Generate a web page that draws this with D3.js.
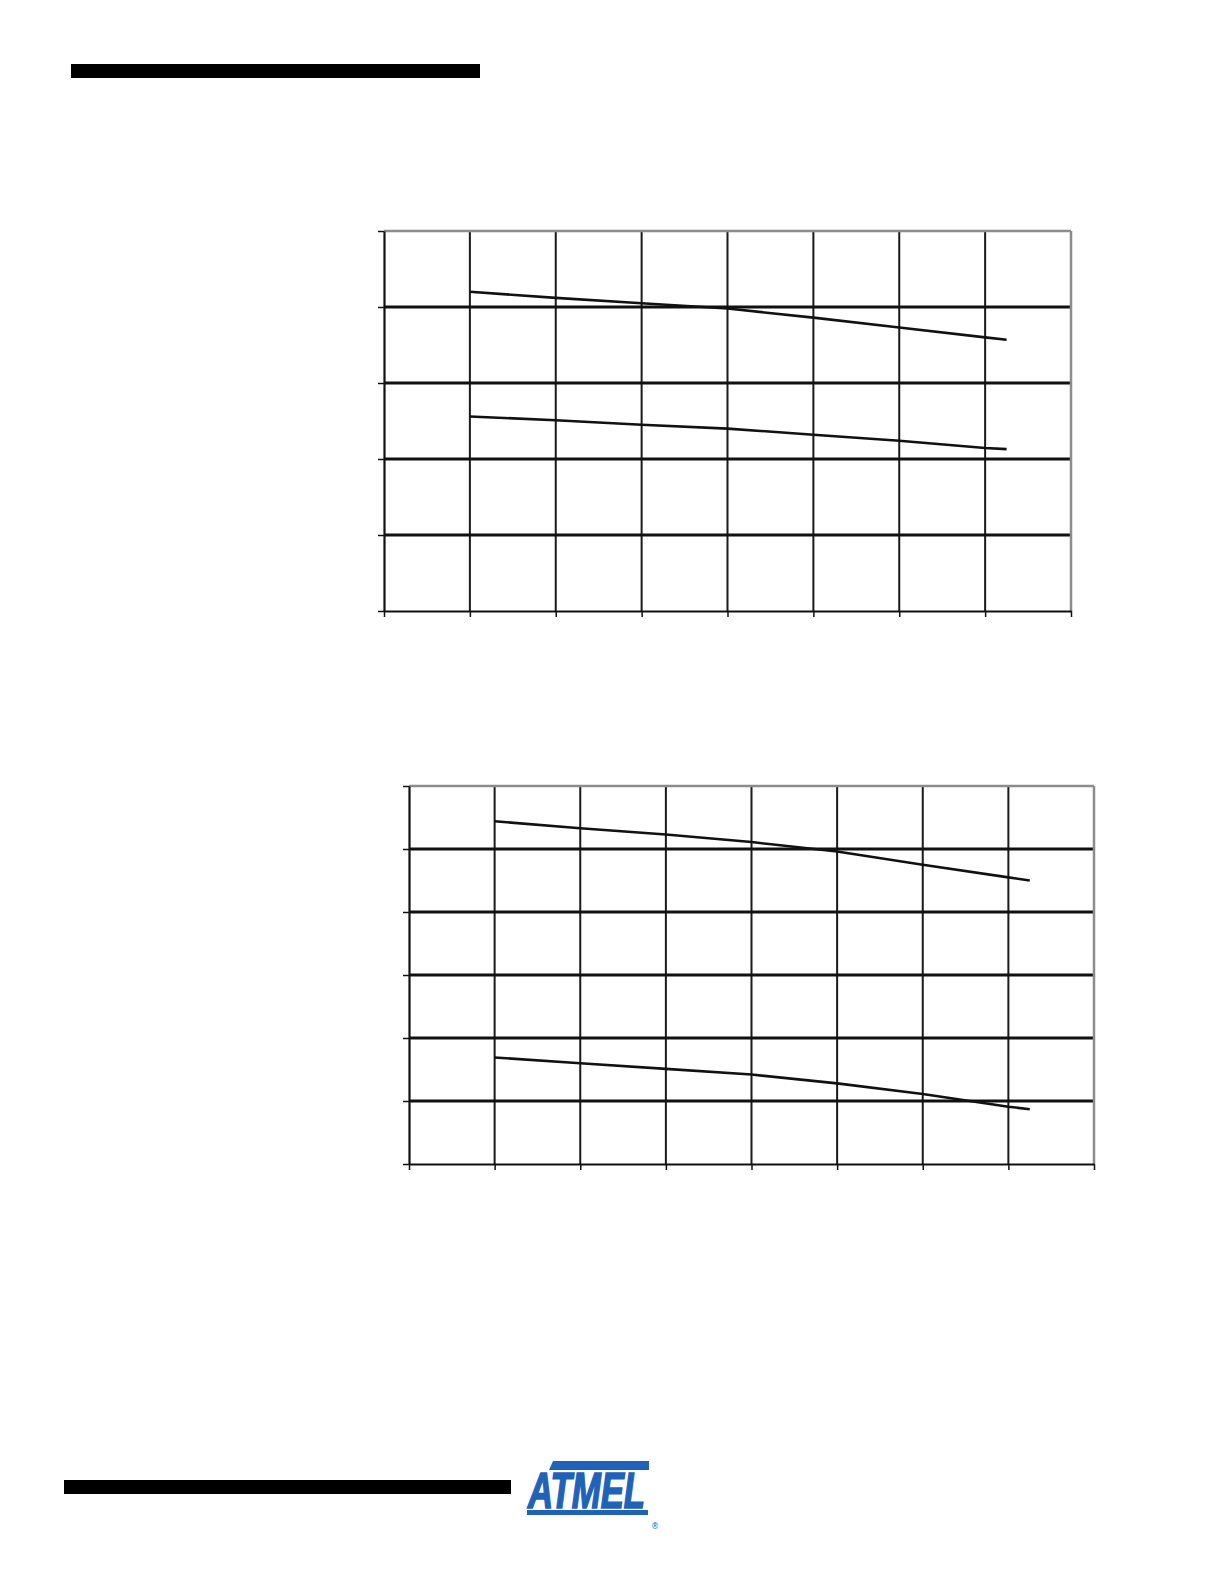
<!DOCTYPE html>
<html><head><meta charset="utf-8">
<script src="https://cdn.jsdelivr.net/npm/d3@7"></script>
<style>body{margin:0;background:#fff}svg{display:block}</style>
</head><body>
<svg id="page" width="1224" height="1584"></svg>
<script>
// ---- data ----
const temps = [-40, -20, 0, 20, 40, 60, 80, 85];
const xTicks = [-60, -40, -20, 0, 20, 40, 60, 80, 100];
const chart1Upper = [4.20, 4.12, 4.05, 3.98, 3.86, 3.73, 3.60, 3.57];
const chart1Lower = [2.56, 2.51, 2.45, 2.40, 2.32, 2.24, 2.145, 2.13];
const chart1YTicks = [0, 1, 2, 3, 4, 5];
const chart2Upper = [5.44, 5.33, 5.23, 5.11, 4.96, 4.75, 4.55, 4.50];
const chart2Lower = [1.69, 1.60, 1.51, 1.42, 1.28, 1.11, 0.91, 0.87];
const chart2YTicks = [0, 1, 2, 3, 4, 5, 6];

const svg = d3.select("#page");

// header / footer bars
svg.append("rect").attr("x", 71).attr("y", 64).attr("width", 409).attr("height", 14).attr("fill", "#000");
svg.append("rect").attr("x", 64).attr("y", 1480).attr("width", 447).attr("height", 14).attr("fill", "#000");

function drawChart(box, yTicks, series) {
  const x = d3.scaleLinear().domain([xTicks[0], xTicks[xTicks.length - 1]]).range([box.left, box.right]);
  const y = d3.scaleLinear().domain([yTicks[0], yTicks[yTicks.length - 1]]).range([box.bottom, box.top]);
  const g = svg.append("g");
  // vertical grid
  g.selectAll(".vg").data(xTicks.slice(1, -1)).join("line")
    .attr("x1", d => x(d)).attr("x2", d => x(d)).attr("y1", box.top).attr("y2", box.bottom)
    .attr("stroke", "#1a1a1a").attr("stroke-width", 2);
  // horizontal grid
  g.selectAll(".hg").data(yTicks.slice(1, -1)).join("line")
    .attr("x1", box.left).attr("x2", box.right).attr("y1", d => y(d)).attr("y2", d => y(d))
    .attr("stroke", "#111").attr("stroke-width", 2.8);
  // top & right border (grey)
  g.append("line").attr("x1", box.left).attr("x2", box.right).attr("y1", box.top).attr("y2", box.top)
    .attr("stroke", "#8c8c8c").attr("stroke-width", 2.5);
  g.append("line").attr("x1", box.right).attr("x2", box.right).attr("y1", box.top).attr("y2", box.bottom)
    .attr("stroke", "#8c8c8c").attr("stroke-width", 2.5);
  // axes
  const ax = g.append("g").attr("transform", `translate(0,${box.bottom})`)
    .call(d3.axisBottom(x).tickValues(xTicks).tickSize(6).tickSizeOuter(0).tickFormat(""));
  const ay = g.append("g").attr("transform", `translate(${box.left},0)`)
    .call(d3.axisLeft(y).tickValues(yTicks).tickSize(6).tickSizeOuter(0).tickFormat(""));
  [ax, ay].forEach(a => {
    a.select(".domain").attr("stroke", "#111").attr("stroke-width", 2.2);
    a.selectAll(".tick line").attr("stroke", "#111").attr("stroke-width", 1.5);
  });
  const line = d3.line().x((d, i) => x(temps[i])).y(d => y(d));
  series.forEach(s => {
    g.append("path").datum(s).attr("d", line).attr("fill", "none")
      .attr("stroke", "#111").attr("stroke-width", 2.6);
  });
}

drawChart({left: 384, right: 1071, top: 231, bottom: 611}, chart1YTicks, [chart1Upper, chart1Lower]);
drawChart({left: 409, right: 1094, top: 786, bottom: 1164}, chart2YTicks, [chart2Upper, chart2Lower]);

// Atmel logo (approximation)
const blue = "#1f63b8";
const logo = svg.append("g");
logo.append("path").attr("d", "M553,1461 L649,1461 L649,1470 L549,1470 Z").attr("fill", blue);
logo.append("text").attr("transform", "translate(528,1508) scale(1,1.2)")
  .attr("font-family", "Liberation Sans Narrow, Liberation Sans, sans-serif")
  .attr("font-weight", "bold").attr("font-style", "italic").attr("font-size", 42)
  .attr("textLength", 117).attr("lengthAdjust", "spacingAndGlyphs")
  .attr("fill", blue).attr("stroke", blue).attr("stroke-width", 1.4).text("ATMEL");
logo.append("rect").attr("x", 527).attr("y", 1510).attr("width", 121).attr("height", 5).attr("fill", blue);
logo.append("text").attr("x", 651).attr("y", 1529).attr("font-family", "DejaVu Sans, sans-serif")
  .attr("font-size", 8).attr("fill", blue).text("®");
</script>
</body></html>
